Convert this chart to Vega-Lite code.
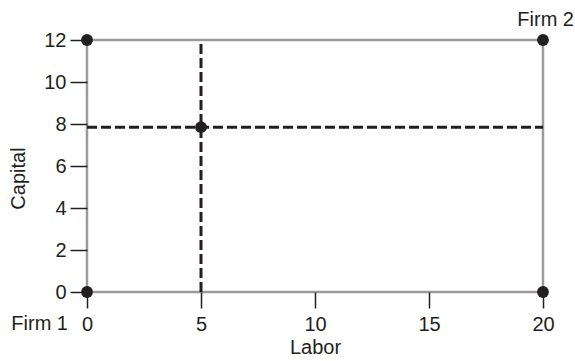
{
  "$schema": "https://vega.github.io/schema/vega-lite/v6.json",
  "width": 456,
  "height": 252,
  "autosize": "none",
  "padding": {"left": 87, "top": 40, "right": 32, "bottom": 69},
  "background": "white",
  "config": {
    "view": {"stroke": "#9a9a9a", "strokeWidth": 2.5},
    "font": "Liberation Sans"
  },
  "datasets": {
    "pts": [
      {"labor": 0, "capital": 0},
      {"labor": 20, "capital": 0},
      {"labor": 0, "capital": 12},
      {"labor": 20, "capital": 12},
      {"labor": 5, "capital": 7.85}
    ],
    "hline": [{"x1": 0, "x2": 20, "y": 7.85}],
    "vline": [{"x": 5, "y1": 0, "y2": 12}],
    "firms": [
      {"label": "Firm 1", "labor": 0, "capital": 0},
      {"label": "Firm 2", "labor": 20, "capital": 12}
    ]
  },
  "encoding": {
    "x": {"type": "quantitative", "scale": {"domain": [0, 20], "nice": false}, "axis": {"values": [0, 5, 10, 15, 20], "title": "Labor", "labelFlush": false, "domain": false, "grid": false, "tickColor": "#231f20", "tickWidth": 1.5, "tickSize": 16, "labelPadding": 6, "labelFontSize": 20, "labelColor": "#231f20", "titleFontSize": 20, "titleFontWeight": "normal", "titleColor": "#231f20", "titlePadding": 3}},
    "y": {"type": "quantitative", "scale": {"domain": [0, 12], "nice": false}, "axis": {"values": [0, 2, 4, 6, 8, 10, 12], "title": "Capital", "titleY": 138, "labelFlush": false, "domain": false, "grid": false, "tickColor": "#231f20", "tickWidth": 1.5, "tickSize": 17, "labelPadding": 4, "labelFontSize": 20, "labelColor": "#231f20", "titleFontSize": 20, "titleFontWeight": "normal", "titleColor": "#231f20", "titlePadding": 15}}
  },
  "layer": [
    {
      "data": {"name": "hline"},
      "mark": {"type": "rule", "strokeDash": [10, 4], "strokeWidth": 3, "color": "#231f20"},
      "encoding": {
        "x": {"field": "x1"},
        "x2": {"field": "x2"},
        "y": {"field": "y"}
      }
    },
    {
      "data": {"name": "vline"},
      "mark": {"type": "rule", "strokeDash": [10, 4], "strokeWidth": 3, "color": "#231f20"},
      "encoding": {
        "x": {"field": "x"},
        "y": {"field": "y1"},
        "y2": {"field": "y2"}
      }
    },
    {
      "data": {"name": "pts"},
      "mark": {"type": "circle", "size": 140, "opacity": 1, "color": "#231f20"},
      "encoding": {
        "x": {"field": "labor"},
        "y": {"field": "capital"}
      }
    },
    {
      "data": {"name": "firms"},
      "transform": [{"filter": "datum.label === 'Firm 1'"}],
      "mark": {"type": "text", "align": "right", "baseline": "alphabetic", "dx": -19, "dy": 38, "fontSize": 20, "color": "#231f20"},
      "encoding": {
        "x": {"field": "labor"},
        "y": {"field": "capital"},
        "text": {"field": "label"}
      }
    },
    {
      "data": {"name": "firms"},
      "transform": [{"filter": "datum.label === 'Firm 2'"}],
      "mark": {"type": "text", "align": "right", "baseline": "alphabetic", "dx": 31, "dy": -14, "fontSize": 20, "color": "#231f20"},
      "encoding": {
        "x": {"field": "labor"},
        "y": {"field": "capital"},
        "text": {"field": "label"}
      }
    }
  ]
}
